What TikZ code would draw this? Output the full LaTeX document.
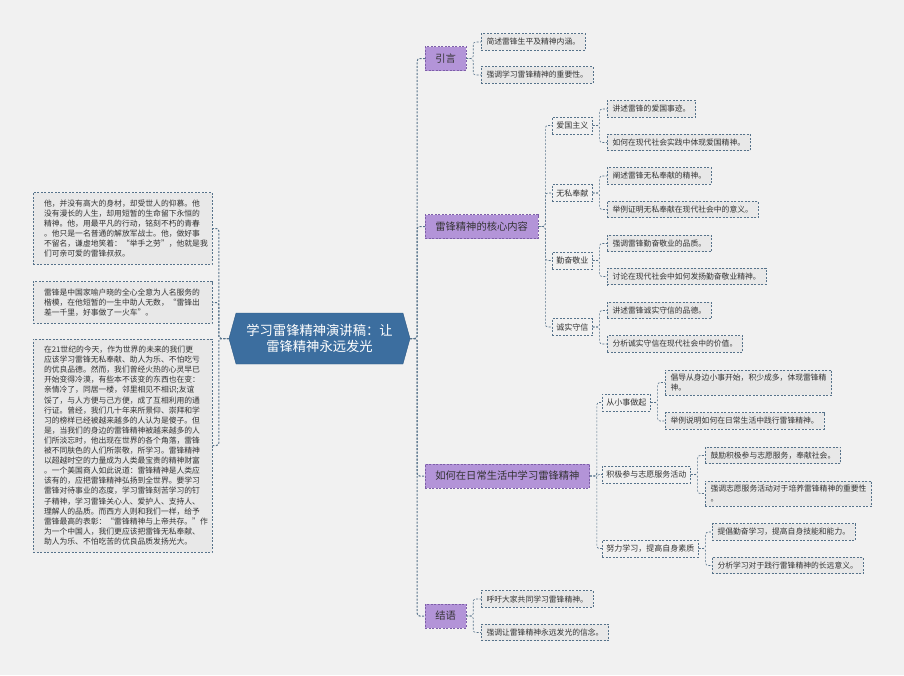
\documentclass[tikz,border=0pt]{standalone}
\usepackage{fontspec}
\usepackage{tikz}
\usetikzlibrary{shapes.symbols}
\newfontfamily\cjk{Noto Sans CJK SC}
\definecolor{bgcol}{HTML}{F1F1F1}
\definecolor{linecol}{HTML}{56728A}
\definecolor{rootcol}{HTML}{3C6E9F}
\definecolor{rootline}{HTML}{2E5A85}
\definecolor{topiccol}{HTML}{B394D8}
\definecolor{topicline}{HTML}{7D5FA8}
\definecolor{leafcol}{HTML}{E8E8E8}
\definecolor{textcol}{HTML}{333333}

\begin{document}
\begin{tikzpicture}[
  x=1pt, y=-1pt,
  every node/.style={text=textcol, font=\cjk},
  conn/.style={draw=linecol, dash pattern=on 2pt off 1.5pt, line width=0.6pt, rounded corners=2.5pt},
  mainconn/.style={conn, line width=1pt},
  rootbox/.style={shape=signal, signal to=west and east, signal pointer angle=149, fill=rootcol, draw=rootline, text=white, align=center, minimum width=181pt, minimum height=51pt, font=\cjk\fontsize{13.3pt}{16.7pt}\selectfont},
  topicbox/.style={anchor=west, fill=topiccol, draw=topicline, line width=0.6pt, dash pattern=on 2pt off 1.5pt, minimum height=24pt, inner xsep=10pt, font=\cjk\fontsize{10.3pt}{12pt}\selectfont},
  subbox/.style={anchor=west, draw=linecol, line width=0.6pt, dash pattern=on 2pt off 1.5pt, minimum height=17pt, inner xsep=4pt, font=\cjk\fontsize{8pt}{10pt}\selectfont},
  leafbox/.style={anchor=west, fill=leafcol, draw=linecol, line width=0.6pt, dash pattern=on 2pt off 1.5pt, minimum height=16.5pt, inner xsep=5.2pt, inner ysep=4pt, align=left, font=\cjk\fontsize{7.8pt}{10.1pt}\selectfont},
  notebox/.style={leafbox, anchor=center, text width=157pt, inner xsep=11pt, inner ysep=7pt}
]
\useasboundingbox (0,0) rectangle (904,675);
\fill[bgcol] (0,0) rectangle (904,675);

\node[rootbox] (root) at (319.5,338.5) {学习雷锋精神演讲稿：让\\雷锋精神永远发光};

\node[notebox] (noteA) at (122.5,228.5) {他，并没有高大的身材，却受世人的仰慕。他\\没有漫长的人生，却用短暂的生命留下永恒的\\精神。他，用最平凡的行动，铭刻不朽的青春\\。他只是一名普通的解放军战士。他，做好事\\不留名，谦虚地笑着：“举手之劳”，他就是我\\们可亲可爱的雷锋叔叔。};
\node[notebox] (noteB) at (122.5,302.5) {雷锋是中国家喻户晓的全心全意为人名服务的\\楷模，在他短暂的一生中助人无数，“雷锋出\\差一千里，好事做了一火车”。};
\node[notebox] (noteC) at (122.5,445.5) {在21世纪的今天，作为世界的未来的我们更\\应该学习雷锋无私奉献、助人为乐、不怕吃亏\\的优良品德。然而，我们曾经火热的心灵早已\\开始变得冷漠，有些本不该变的东西也在变：\\亲情冷了，同居一楼，邻里相见不相识;友谊\\馁了，与人方便与己方便，成了互相利用的通\\行证。曾经，我们几十年来所景仰、崇拜和学\\习的榜样已经被越来越多的人认为是傻子。但\\是，当我们的身边的雷锋精神被越来越多的人\\们所淡忘时，他出现在世界的各个角落，雷锋\\被不同肤色的人们所崇敬，所学习。雷锋精神\\以超越时空的力量成为人类最宝贵的精神财富\\。一个美国商人如此说道：雷锋精神是人类应\\该有的，应把雷锋精神弘扬到全世界。要学习\\雷锋对待事业的态度，学习雷锋刻苦学习的钉\\子精神，学习雷锋关心人、爱护人、支持人、\\理解人的品质。而西方人则和我们一样，给予\\雷锋最高的表彰：“雷锋精神与上帝共存。”作\\为一个中国人，我们更应该把雷锋无私奉献、\\助人为乐、不怕吃苦的优良品质发扬光大。};

\node[topicbox] (yinyan) at (425,58.5) {引言};
\node[leafbox] (yy1) at (481,42) {简述雷锋生平及精神内涵。};
\node[leafbox] (yy2) at (481,75) {强调学习雷锋精神的重要性。};

\node[topicbox] (hexin) at (425,226.5) {雷锋精神的核心内容};
\node[subbox] (aiguo) at (552,125.5) {爱国主义};
\node[subbox] (wusi) at (552,193) {无私奉献};
\node[subbox] (qinfen) at (552,260.5) {勤奋敬业};
\node[subbox] (chengxin) at (552,327) {诚实守信};
\node[leafbox] (ag1) at (607,109) {讲述雷锋的爱国事迹。};
\node[leafbox] (ag2) at (607,142.5) {如何在现代社会实践中体现爱国精神。};
\node[leafbox] (ws1) at (607,176) {阐述雷锋无私奉献的精神。};
\node[leafbox] (ws2) at (607,209.5) {举例证明无私奉献在现代社会中的意义。};
\node[leafbox] (qf1) at (607,243.5) {强调雷锋勤奋敬业的品质。};
\node[leafbox] (qf2) at (607,276.5) {讨论在现代社会中如何发扬勤奋敬业精神。};
\node[leafbox] (cx1) at (607,310.5) {讲述雷锋诚实守信的品德。};
\node[leafbox] (cx2) at (607,344) {分析诚实守信在现代社会中的价值。};

\node[topicbox] (richang) at (425,476) {如何在日常生活中学习雷锋精神};
\node[subbox] (xiaoshi) at (602,402.5) {从小事做起};
\node[subbox] (zhiyuan) at (602,474.5) {积极参与志愿服务活动};
\node[subbox] (xuexi) at (602,548.5) {努力学习，提高自身素质};
\node[leafbox] (xs1) at (665,382.5) {倡导从身边小事开始，积少成多，体现雷锋精\\神。};
\node[leafbox] (xs2) at (665,421) {举例说明如何在日常生活中践行雷锋精神。};
\node[leafbox] (zy1) at (705,455.5) {鼓励积极参与志愿服务，奉献社会。};
\node[leafbox] (zy2) at (705,493.5) {强调志愿服务活动对于培养雷锋精神的重要性\\。};
\node[leafbox] (xx1) at (712,532) {提倡勤奋学习，提高自身技能和能力。};
\node[leafbox] (xx2) at (712,565.5) {分析学习对于践行雷锋精神的长远意义。};

\node[topicbox] (jieyu) at (425,616) {结语};
\node[leafbox] (jy1) at (481,599) {呼吁大家共同学习雷锋精神。};
\node[leafbox] (jy2) at (481,632.5) {强调让雷锋精神永远发光的信念。};

\foreach \c in {noteA, noteB, noteC}
  \draw[mainconn] (root.west) -- ++(-10,0) |- (\c.east);
\foreach \c in {yinyan, hexin, richang, jieyu}
  \draw[mainconn] (root.east) -- ++(7,0) |- (\c.west);
\foreach \p/\c in {yinyan/yy1, yinyan/yy2, hexin/aiguo, hexin/wusi, hexin/qinfen, hexin/chengxin,
    aiguo/ag1, aiguo/ag2, wusi/ws1, wusi/ws2, qinfen/qf1, qinfen/qf2, chengxin/cx1, chengxin/cx2,
    richang/xiaoshi, richang/zhiyuan, richang/xuexi, xiaoshi/xs1, xiaoshi/xs2, zhiyuan/zy1, zhiyuan/zy2,
    xuexi/xx1, xuexi/xx2, jieyu/jy1, jieyu/jy2}
  \draw[conn] (\p.east) -- ++(7,0) |- (\c.west);
\end{tikzpicture}
\end{document}
